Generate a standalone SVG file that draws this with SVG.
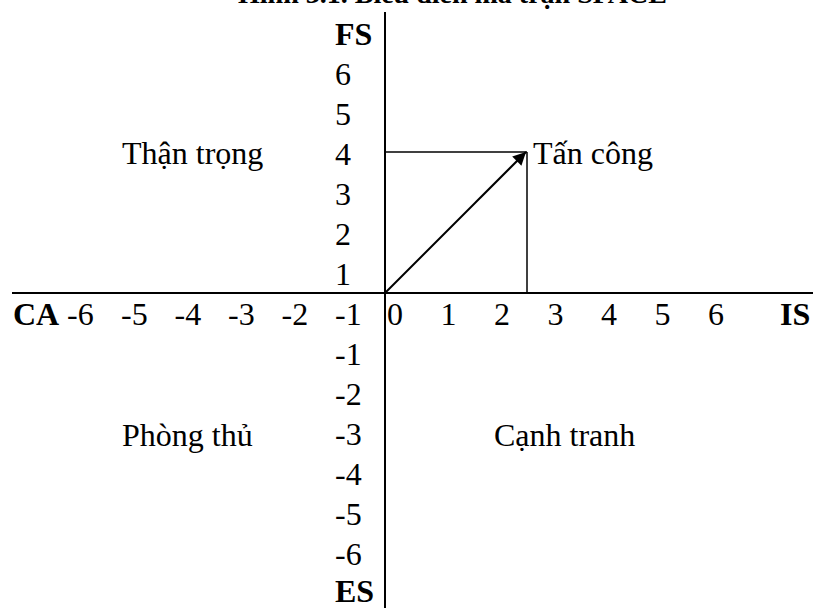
<svg xmlns="http://www.w3.org/2000/svg" width="813" height="608" viewBox="0 0 813 608">
<defs>
<style>
text{font-family:"Liberation Serif","Times New Roman",serif;font-size:32px;fill:#000}
.b{font-weight:bold}
.axis{stroke:#000;stroke-width:2;fill:none}
.thin{stroke:#000;stroke-width:1.5;fill:none}
</style>
<marker id="ah" viewBox="0 0 10 10" refX="10" refY="5" markerWidth="8" markerHeight="6.5" markerUnits="strokeWidth" orient="auto">
<path d="M0,0 L10,5 L0,10 z" fill="#000"/>
</marker>
</defs>
<rect width="813" height="608" fill="#fff"/>
<text id="title" class="b" x="238" y="3" style="font-size:28px">Hình 3.1. Biểu diễn ma trận SPACE</text>
<g id="connectors">
<line class="axis" x1="385" y1="12" x2="385" y2="608"/>
<line class="axis" x1="12" y1="293" x2="813" y2="293"/>
<line class="thin" x1="385" y1="152" x2="527" y2="152"/>
<line class="thin" x1="527" y1="152" x2="527" y2="293"/>
<line class="axis" x1="385" y1="293" x2="526" y2="152" marker-end="url(#ah)"/>
</g>
<g id="y-axis-labels">
<text class="b" x="335" y="45">FS</text>
<text x="335" y="85">6</text>
<text x="335" y="125">5</text>
<text x="335" y="165">4</text>
<text x="335" y="205">3</text>
<text x="335" y="245">2</text>
<text x="335" y="285">1</text>
<text x="335" y="365">-1</text>
<text x="335" y="405">-2</text>
<text x="335" y="445">-3</text>
<text x="335" y="485">-4</text>
<text x="335" y="525">-5</text>
<text x="335" y="565">-6</text>
<text class="b" x="335" y="602">ES</text>
</g>
<g id="x-axis-labels">
<text class="b" x="13" y="325">CA</text>
<text x="67" y="325">-6</text>
<text x="121" y="325">-5</text>
<text x="174.5" y="325">-4</text>
<text x="228" y="325">-3</text>
<text x="281.5" y="325">-2</text>
<text x="335" y="325">-1</text>
<text x="387" y="325">0</text>
<text x="440.5" y="325">1</text>
<text x="494" y="325">2</text>
<text x="547.5" y="325">3</text>
<text x="601" y="325">4</text>
<text x="654.5" y="325">5</text>
<text x="708" y="325">6</text>
<text class="b" x="780" y="325">IS</text>
</g>
<g id="quadrant-than-trong"><text x="122" y="164">Thận trọng</text></g>
<g id="quadrant-tan-cong"><text x="533" y="164">Tấn công</text></g>
<g id="quadrant-phong-thu"><text x="122" y="446">Phòng thủ</text></g>
<g id="quadrant-canh-tranh"><text x="494" y="446">Cạnh tranh</text></g>
</svg>
